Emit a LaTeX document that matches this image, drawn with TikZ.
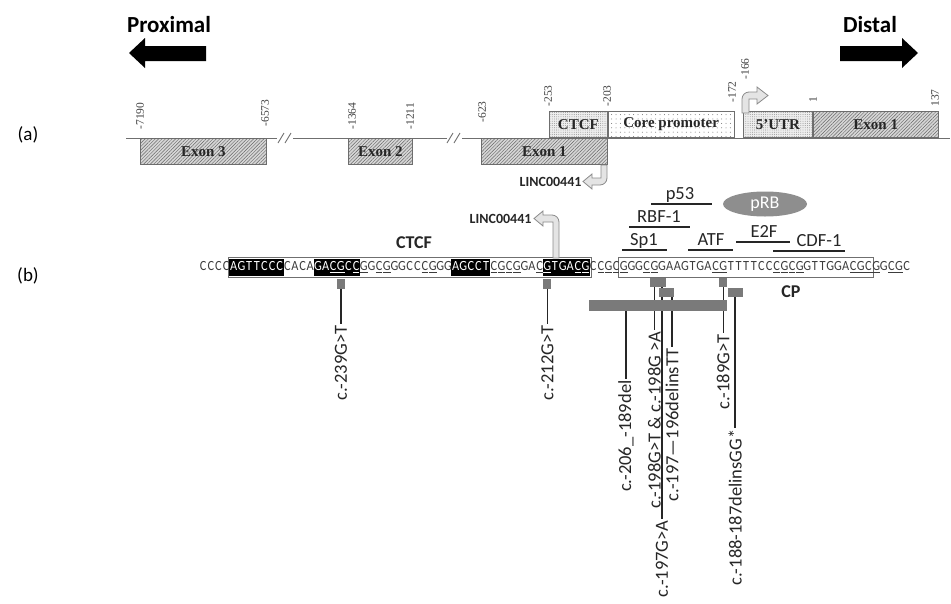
\documentclass[tikz,border=0pt]{standalone}
\usepackage{fontspec}
\setmainfont{Carlito}
\newfontfamily\timesfont{Liberation Serif}
\newfontfamily\seqfont{Carlito}[FakeStretch=0.88]
\usetikzlibrary{patterns.meta, fit, backgrounds, shapes.geometric}
\definecolor{cline}{HTML}{6F6F6F}
\definecolor{cmark}{HTML}{7A7A7A}
\definecolor{cseq}{HTML}{3C3C3C}
\definecolor{carrow}{HTML}{E4E4E4}
\definecolor{cedge}{HTML}{8A8A8A}
\newcommand{\fsz}[1]{\fontsize{#1}{#1}\selectfont}
\newcommand{\seqtext}[1]{\ifx#1c\underline{C}\else\ifx#1g\underline{G}\else#1\fi\fi}
\tikzset{
  every picture/.style={line width=1pt},
  heading/.style={font=\bfseries\fsz{23}, inner sep=0pt},
  panel/.style={font=\fsz{19}, inner sep=0pt},
  geneline/.style={draw=cline, line width=0.9pt},
  exon/.style={draw=cline, fill=black!16, line width=0.8pt, minimum height=26, inner sep=0pt,
    font=\timesfont\bfseries\fsz{15}, text=black!85,
    postaction={pattern={Lines[angle=45, distance=2.4pt, line width=0.45pt]}, pattern color=black!60}},
  dotbox/.style={draw=cline, fill=black!7, line width=0.8pt, minimum height=26, inner sep=0pt,
    font=\timesfont\bfseries\fsz{15}, text=black!85,
    postaction={pattern={Dots[distance=2.2pt, radius=0.4pt]}, pattern color=black!55}},
  sparsebox/.style={draw=cline, fill=white, line width=0.8pt, minimum height=26, inner sep=0pt,
    font=\timesfont\bfseries\fsz{15}, text=black!85,
    postaction={pattern={Dots[distance=4.4pt, radius=0.5pt]}, pattern color=black!55}},
  posnum/.style={rotate=90, anchor=west, inner sep=0pt, font=\timesfont\fsz{11.5}, text=black!75},
  startarrow/.style={fill=carrow, draw=cedge, line width=0.8pt},
  linclabel/.style={font=\bfseries\fsz{14}, inner sep=1pt, text=black!85},
  seqchar/.style={anchor=base, inner sep=0pt, minimum width=7.647, text height=9.5pt, text depth=3pt,
    font=\seqfont\fsz{14}},
  seqbox/.style={draw=cline, line width=0.8pt, inner xsep=1pt, inner ysep=3pt},
  blackbox/.style={fill=black, inner xsep=0pt, inner ysep=1.5pt},
  tfbar/.style={line width=2pt, draw=black!85},
  tflabel/.style={anchor=base, inner sep=0pt, font=\fsz{18.5}, text=black!85},
  sitelabel/.style={anchor=base, inner sep=0pt, font=\bfseries\fsz{18}, text=black!85},
  snpbox/.style={fill=cmark, inner sep=0pt, minimum width=8, minimum height=9, anchor=north},
  mutline/.style={line width=1.4pt, draw=black!85},
  mutlabel/.style={rotate=90, anchor=east, inner sep=1pt, font=\fsz{18.5}, text=black!85},
}

\begin{document}
\begin{tikzpicture}[x=1pt, y=-1pt]
  \path[use as bounding box] (0,0) rectangle (951,603);

  % direction of the locus
  \node[heading, anchor=base] (proximal) at (169,32) {Proximal};
  \node[heading, anchor=base] (distal) at (870,32) {Distal};
  \fill[black] (129,53) -- (145,38) -- (145,46) -- (206,46) -- (206,61) -- (145,61) -- (145,68) -- cycle;
  \fill[black] (918,53) -- (902,38) -- (902,46) -- (840,46) -- (840,61) -- (902,61) -- (902,68) -- cycle;

  \node[panel] (pa) at (28,135) {(a)};
  \node[panel] (pb) at (28,276) {(b)};

  % (a) gene map
  \draw[geneline] (126,138) -- (277,138) (293,138) -- (447,138) (462,138) -- (950,138);
  \draw[geneline] (278,143) -- (284,133) (285,143) -- (291,133);
  \draw[geneline] (447,143) -- (453,133) (454,143) -- (460,133);

  \node[exon, minimum width=126, anchor=north west] (exon3) at (140,138) {Exon 3};
  \node[exon, minimum width=64, anchor=north west] (exon2) at (348,138) {Exon 2};
  \node[exon, minimum width=126, anchor=north west] (lincexon) at (481,138) {Exon 1};
  \node[dotbox, minimum width=58, anchor=south west] (ctcfbox) at (549,138) {CTCF};
  \node[sparsebox, minimum width=126, anchor=south west] (corebox) at (ctcfbox.south east) {Core promoter};
  \node[dotbox, minimum width=69, anchor=south west] (utrbox) at (743,138) {5’UTR};
  \node[exon, minimum width=125, anchor=south west] (exon1) at (utrbox.south east) {Exon 1};

  \node[posnum] (p7190) at (140,130) {-7190};
  \node[posnum] (p6573) at (265,127) {-6573};
  \node[posnum] (p1364) at (352,130) {-1364};
  \node[posnum] (p1211) at (410,130) {-1211};
  \node[posnum] (p623) at (482,123) {-623};
  \node[posnum] (p253) at (548,107) {-253};
  \node[posnum] (p203) at (607,107) {-203};
  \node[posnum] (p172) at (732,103) {-172};
  \node[posnum] (p166) at (745,80) {-166};
  \node[posnum] (p1) at (813,103) {1};
  \node[posnum] (p137) at (935,107) {137};

  % transcription starts
  \draw[startarrow] (742,113) -- (742,99) arc[start angle=180, end angle=270, radius=7]
    -- (757,92) -- (757,87) -- (768,95.5) -- (757,104) -- (757,99) -- (749,99) -- (749,113) -- cycle;
  \draw[startarrow] (607,165) -- (607,178) arc[start angle=0, end angle=90, radius=7]
    -- (592,185) -- (592,189) -- (583,181.5) -- (592,174) -- (592,178) -- (601,178) -- (601,165) -- cycle;
  \node[linclabel, anchor=east] (lincA) at (583,181.5) {LINC00441};

  % (b) promoter sequence
  \draw[startarrow] (559,258) -- (559,222) arc[start angle=0, end angle=-90, radius=7]
    -- (543,215) -- (543,211) -- (534,218.5) -- (543,226) -- (543,222) -- (553,222) -- (553,258) -- cycle;
  \node[linclabel, anchor=east] (lincB) at (533,218.5) {LINC00441};

  \foreach \ch [count=\idx from 0] in {C,C,C,C, A,G,T,T,C,C,C, C,A,C,A, G,A,c,g,C,c,
      g,G,c,g,G,G,C,C,c,g,G,G, A,G,C,C,T, c,g,c,g,G,A,c, g,T,G,A,c,g, C,c,g,c,
      g,G,G,c,g,G,A,A,G,T,G,A,c,g,T,T,T,T,C,C,c,g,c,g,G,T,T,G,G,A,c,g,c, g,G,c,g,C} {
    \pgfmathsetmacro\cx{199.4+(\idx+0.5)*7.647}
    \pgfmathtruncatemacro\inblk{and(\idx>=4,\idx<=10)+and(\idx>=15,\idx<=20)+and(\idx>=33,\idx<=37)+and(\idx>=45,\idx<=50)}
    \ifnum\inblk>0 \def\chcol{white}\else\def\chcol{cseq}\fi
    \node[seqchar, text=\chcol] (s\idx) at (\cx,270.5) {\expandafter\seqtext\expandafter{\ch}};
  }

  \begin{scope}[on background layer]
    \node[seqbox, fit=(s4)(s50)] (ctcfseq) {};
    \node[seqbox, fit=(s55)(s87)] (cpseq) {};
    \node[blackbox, fit=(s4)(s10)] (blk1) {};
    \node[blackbox, fit=(s15)(s20)] (blk2) {};
    \node[blackbox, fit=(s33)(s37)] (blk3) {};
    \node[blackbox, fit=(s45)(s50)] (blk4) {};
  \end{scope}

  \node[sitelabel] (ctcflabel) at (414,248) {CTCF};
  \node[sitelabel] (cplabel) at (791,297) {CP};

  % binding sites
  \foreach \tfname/\xa/\xb/\yb/\xl [count=\k] in {p53/651/712/204/680, RBF-1/629/690/227/659,
      Sp1/622/667/250/644, ATF/688/733/250/711, E2F/736/790/242/764, CDF-1/773/845/251/819} {
    \draw[tfbar] (\xa,\yb) -- (\xb,\yb);
    \node[tflabel] (tf\k) at (\xl,\yb-5) {\tfname};
  }
  \node[ellipse, fill=cmark!85, minimum width=84, minimum height=25, inner sep=0pt,
    font=\fsz{18}, text=white] (prb) at (765,204) {pRB};

  % variants
  \node[snpbox, minimum height=10] (m239) at (s18 |- 0,278) {};
  \node[snpbox, minimum height=10] (m212) at (s45 |- 0,278) {};
  \node[snpbox] (m198) at (s59 |- 0,277) {};
  \node[snpbox] (m197) at (s60 |- 0,277) {};
  \node[snpbox] (m189) at (s68 |- 0,277) {};
  \node[snpbox, minimum width=15] (m197d) at (s60.east |- 0,287) {};
  \node[snpbox, minimum width=15] (m188) at (s69.east |- 0,287) {};
  \node[snpbox, anchor=north west, minimum width=137.6, minimum height=11] (m206) at (s51.west |- 0,299) {};

  \node[mutlabel] (l239) at (m239 |- 0,324) {c.-239G>T};
  \node[mutlabel] (l212) at (m212 |- 0,324) {c.-212G>T};
  \node[mutlabel] (l206) at (626,379) {c.-206\_-189del};
  \node[mutlabel] (l198) at (m198 |- 0,330) {c.-198G>T \& c.-198G >A};
  \node[mutlabel] (l197) at (m197 |- 0,519) {c.-197G>A};
  \node[mutlabel] (l197d) at (672,347) {c.-197—196delinsTT};
  \node[mutlabel] (l189) at (m189 |- 0,333) {c.-189G>T};
  \node[mutlabel] (l188) at (m188 |- 0,428) {c.-188-187delinsGG*};

  \begin{scope}[on background layer]
    \draw[mutline] (m239.south) -- (l239.east);
    \draw[mutline] (m212.south) -- (l212.east);
    \draw[mutline] (l206.east |- m206.south) -- (l206.east);
    \draw[mutline] (m198.south) -- (l198.east);
    \draw[mutline] (m197.south) -- (l197.east);
    \draw[mutline] (l197d.east |- m197d.south) -- (l197d.east);
    \draw[mutline] (m189.south) -- (l189.east);
    \draw[mutline] (m188.south) -- (l188.east);
  \end{scope}
\end{tikzpicture}
\end{document}
